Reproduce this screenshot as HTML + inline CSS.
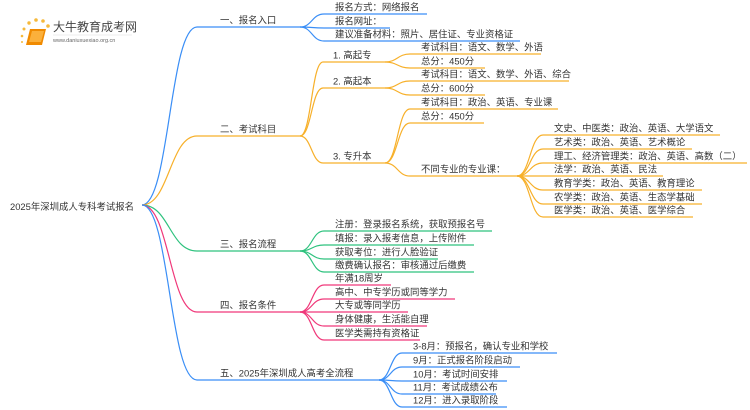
<!DOCTYPE html>
<html><head><meta charset="utf-8">
<style>
html,body{margin:0;padding:0;background:#fff;width:750px;height:410px;overflow:hidden}
svg{display:block}
text{font-family:"Liberation Sans","Noto Sans CJK SC",sans-serif;font-size:9.4px;fill:#333}
</style></head><body>
<svg id="s" width="750" height="410" viewBox="0 0 750 410" xmlns="http://www.w3.org/2000/svg">
<g id="logo">
 <circle cx="22" cy="36" r="1.3" fill="#f6b93b"/><circle cx="24" cy="29" r="1.5" fill="#f6b93b"/><circle cx="29" cy="23" r="1.7" fill="#f6b93b"/><circle cx="36" cy="20" r="1.8" fill="#f6b93b"/><circle cx="43" cy="21" r="1.8" fill="#f6b93b"/><circle cx="48" cy="26" r="1.8" fill="#f6b93b"/>
 <circle cx="22" cy="42" r="1" fill="#f6b93b"/>
 <path d="M30 29 L46 29 L42 45 L26 45 Z" fill="#f08a00"/>
 <path d="M32 31 L44 31 L41 42 L29 42 Z" fill="#fbb03b"/>
 <text x="53" y="31" style="font-size:12px;fill:#444">大牛教育成考网</text>
 <text x="53" y="42" style="font-size:5.5px;fill:#666">www.daniuxuexiao.org.cn</text>
 <line x1="53" y1="35" x2="132" y2="35" stroke="#ddd" stroke-width="0.6"/>
</g>
<text x="10" y="210">2025年深圳成人专科考试报名</text>
</svg>
<script>
var s=document.getElementById('s'),NS='http://www.w3.org/2000/svg';
function P(d,c){var p=document.createElementNS(NS,'path');p.setAttribute('d',d);p.setAttribute('fill','none');p.setAttribute('stroke',c);p.setAttribute('stroke-width','1.2');s.appendChild(p);}
function T(x,y,t){var e=document.createElementNS(NS,'text');e.setAttribute('x',x);e.setAttribute('y',y);e.textContent=t;s.appendChild(e);}
function N(px,py,sx,ex,y,c,t,tx){var m=(px+sx)/2;P('M'+px+' '+py+' C'+m+' '+py+' '+m+' '+y+' '+sx+' '+y+' L'+ex+' '+y,c);T(tx,y-3.5,t);}
var B='#3a8ef6',O='#f7b02a',G='#2ec27e',K='#f0387a',rx=142,ry=205;
N(rx,ry,197,300,27,B,'一、报名入口',220);
N(300,27,324,427,14,B,'报名方式：网络报名',335);
N(300,27,324,390,28,B,'报名网址：',335);
N(300,27,324,520,41,B,'建议准备材料：照片、居住证、专业资格证',335);
N(rx,ry,197,300,136,O,'二、考试科目',220);
N(300,136,323,385,62,O,'1. 高起专',333);
N(300,136,323,385,88,O,'2. 高起本',333);
N(300,136,323,385,163,O,'3. 专升本',333);
N(385,62,410,541,54,O,'考试科目：语文、数学、外语',421);
N(385,62,410,485,68,O,'总分：450分',421);
N(385,88,410,569,81,O,'考试科目：语文、数学、外语、综合',421);
N(385,88,410,485,95,O,'总分：600分',421);
N(385,163,410,558,109,O,'考试科目：政治、英语、专业课',421);
N(385,163,410,484,123,O,'总分：450分',421);
N(385,163,410,517,176,O,'不同专业的专业课：',421);
var L=[['文史、中医类：政治、英语、大学语文',135,720],['艺术类：政治、英语、艺术概论',149,692],['理工、经济管理类：政治、英语、高数（二）',163,747],['法学：政治、英语、民法',176,663],['教育学类：政治、英语、教育理论',190,702],['农学类：政治、英语、生态学基础',204,702],['医学类：政治、英语、医学综合',217,693]];
L.forEach(function(a){N(517,176,543,a[2],a[1],O,a[0],554);});
N(rx,ry,197,300,251,G,'三、报名流程',220);
[['注册：登录报名系统，获取预报名号',231,492],['填报：录入报考信息，上传附件',245,474],['获取考位：进行人脸验证',259,438],['缴费确认报名：审核通过后缴费',272,474]].forEach(function(a){N(300,251,324,a[2],a[1],G,a[0],335);});
N(rx,ry,197,300,312,K,'四、报名条件',220);
[['年满18周岁',285,391],['高中、中专学历或同等学力',299,455],['大专或等同学历',312,408],['身体健康，生活能自理',326,427],['医学类需持有资格证',340,420]].forEach(function(a){N(300,312,324,a[2],a[1],K,a[0],335);});
N(rx,ry,197,379,380,B,'五、2025年深圳成人高考全流程',220);
[['3-8月：预报名，确认专业和学校',353,557],['9月：正式报名阶段启动',367,520],['10月：考试时间安排',381,507],['11月：考试成绩公布',394,496],['12月：进入录取阶段',407,507]].forEach(function(a){N(379,380,402,a[2],a[1],B,a[0],413);});
</script>
</body></html>
